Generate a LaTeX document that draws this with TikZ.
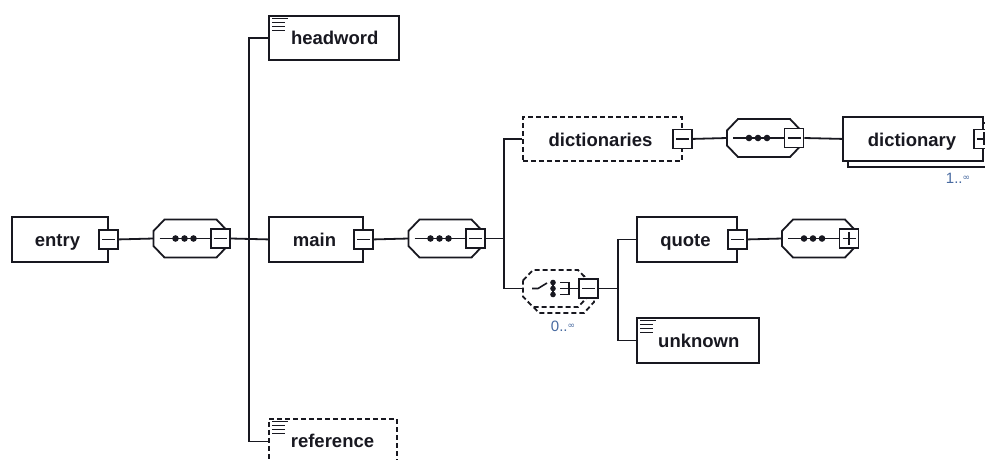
\documentclass[tikz,border=0pt]{standalone}
\usepackage{fontspec}
\setmainfont{Liberation Sans}
\newfontfamily\symfont{DejaVu Sans}
\usetikzlibrary{calc}

\definecolor{ink}{RGB}{24,24,32}
\definecolor{occ}{RGB}{72,106,160}

\tikzset{
  wire/.style={draw=ink, line width=1.8pt},
  dashpat/.style={dash pattern=on 5pt off 3pt},
  elem/.style={draw=ink, line width=1.8pt, fill=white, inner sep=0pt,
    shape=rectangle, anchor=north west},
  optelem/.style={elem, dashpat},
  pmbox/.style={draw=ink, fill=white, line width=1.8pt, minimum size=19pt,
    inner sep=0pt, shape=rectangle},
  pmminus/.style={pmbox, path picture={
    \draw[ink, line width=1.5pt]
      ([xshift=3pt]path picture bounding box.west) --
      ([xshift=-3pt]path picture bounding box.east);}},
  pmplus/.style={pmbox, path picture={
    \draw[ink, line width=1.5pt]
      ([xshift=3pt]path picture bounding box.west) --
      ([xshift=-3pt]path picture bounding box.east)
      ([yshift=-3pt]path picture bounding box.north) --
      ([yshift=3pt]path picture bounding box.south);}},
  lbl/.style={font=\fontsize{18.5}{22}\selectfont\bfseries, text=ink,
    inner sep=0pt, anchor=base},
  occlbl/.style={font=\fontsize{15}{17}\selectfont, text=occ,
    inner sep=0pt, anchor=base},
  icon/.style={draw=ink, line width=1.8pt},
}

% sequence compositor: name, left x, centre y, style of the +/- box
\newcommand{\seqcomp}[4]{%
  \coordinate (#1) at (#2,#3);
  \begin{scope}[shift={(#2,#3)}]
    \draw[wire, fill=white] (0,-7.5) -- (11,-19) -- (63,-19) -- (74,-7.5)
      -- (74,7.5) -- (63,19) -- (11,19) -- (0,7.5) -- cycle;
    \draw[wire] (6,0) -- (58,0);
    \fill[ink] (22,0) circle (3.3) (31,0) circle (3.3) (40,0) circle (3.3);
    \node[#4] (#1-pm) at (67,0) {};
  \end{scope}}

% "text content" glyph in the top left corner of an element box
\newcommand{\texticon}[2]{%
  \draw[icon] (#1+4,#2+3.5) -- (#1+20,#2+3.5)
    (#1+4,#2+7.5) -- (#1+17,#2+7.5)
    (#1+4,#2+11.5) -- (#1+17,#2+11.5)
    (#1+4,#2+15.5) -- (#1+17,#2+15.5);}

\newcommand{\infsym}{\raisebox{3pt}{\symfont\fontsize{9}{9}\selectfont ∞}}

\begin{document}
\begin{tikzpicture}[x=1pt,y=-1pt]
\useasboundingbox (0,0) rectangle (985,459);
\clip (0,0) rectangle (985,459);

% ---- element boxes ----
\node[elem, minimum width=96pt, minimum height=45pt] (entry) at (11,216) {};
\node[elem, minimum width=130pt, minimum height=44pt] (headword) at (268,15) {};
\node[elem, minimum width=94pt, minimum height=45pt] (main) at (268,216) {};
\node[optelem, minimum width=159pt, minimum height=44pt] (dictionaries) at (522,116) {};
\node[elem, minimum width=140pt, minimum height=44pt] (dictionary-sh) at (847,122) {};
\node[elem, minimum width=140pt, minimum height=44pt] (dictionary) at (842,116) {};
\node[elem, minimum width=100pt, minimum height=45pt] (quote) at (636,216) {};
\node[elem, minimum width=122pt, minimum height=45pt] (unknown) at (636,317) {};
\node[optelem, minimum width=128pt, minimum height=45pt] (reference) at (268,418) {};

\texticon{268}{15}
\texticon{636}{317}
\texticon{268}{418}

% ---- labels ----
\node[lbl] (entry-t) at (57.5,246) {entry};
\node[lbl] (headword-t) at (334.7,44.5) {headword};
\node[lbl] (main-t) at (314.5,246) {main};
\node[lbl] (dictionaries-t) at (600.5,146) {dictionaries};
\node[lbl] (dictionary-t) at (912,146) {dictionary};
\node[lbl] (quote-t) at (685.5,246) {quote};
\node[lbl] (unknown-t) at (698.8,347) {unknown};
\node[lbl] (reference-t) at (332.5,447.5) {reference};

% ---- expand / collapse boxes on the elements ----
\node[pmminus] (entry-pm) at (entry.east) {};
\node[pmminus] (main-pm) at (main.east) {};
\node[pmminus] (dictionaries-pm) at (dictionaries.east) {};
\node[pmplus] (dictionary-pm) at (dictionary.east) {};
\node[pmminus] (quote-pm) at (quote.east) {};

% ---- sequence compositors ----
\seqcomp{c1}{153.5}{238.5}{pmminus}
\seqcomp{c2}{408.5}{238.5}{pmminus}
\seqcomp{c3}{727}{138}{pmminus}
\seqcomp{c5}{782}{238.5}{pmplus}

% ---- optional, repeating choice compositor ----
\coordinate (c4) at (523,288.5);
\begin{scope}[shift={(523,288.5)}]
  \draw[wire, dashpat, fill=white] (6,-2) -- (16,-12.5) -- (61,-12.5) -- (71,-2)
    -- (71,13.5) -- (61,24.5) -- (16,24.5) -- (6,13.5) -- cycle;
  \draw[wire, dashpat, fill=white] (0,-8) -- (10,-18.5) -- (55,-18.5) -- (65,-8)
    -- (65,8) -- (55,18.5) -- (10,18.5) -- (0,8) -- cycle;
  \draw[wire, line width=1.6pt] (9,0) -- (15,0) -- (24,-5.5);
  \draw[wire, line width=1.6pt] (30,-7) -- (30,7);
  \fill[ink] (30,-6) circle (2.8) (30,0) circle (2.8) (30,6) circle (2.8);
  \draw[wire, line width=1.6pt] (37,-6) -- (46,-6) -- (46,6) -- (37,6)
    (37,0) -- (56,0);
  \node[pmminus] (c4-pm) at (65.5,0) {};
\end{scope}

% ---- occurrence labels ----
\node[occlbl] (c4-occ) at (563,331.5) {0..\infsym};
\node[occlbl] (dictionary-occ) at (958,183.5) {1..\infsym};

% ---- connectors ----
\coordinate (b1) at (249,238.5);
\coordinate (b2) at (504,238.5);
\coordinate (b3) at (618,288.5);

\draw[wire] (entry-pm.east) -- (c1);
\draw[wire] (c1-pm.east) -- (main.west);
\draw[wire] (headword.west) -| (b1) |- (reference.west);
\draw[wire] (main-pm.east) -- (c2);
\draw[wire] (c2-pm.east) -- (b2);
\draw[wire] (dictionaries.west) -| (b2) |- (c4);
\draw[wire] (dictionaries-pm.east) -- (c3);
\draw[wire] (c3-pm.east) -- (dictionary.west);
\draw[wire] (c4-pm.east) -- (b3);
\draw[wire] (quote.west) -| (b3) |- (unknown.west);
\draw[wire] (quote-pm.east) -- (c5);
\end{tikzpicture}
\end{document}
